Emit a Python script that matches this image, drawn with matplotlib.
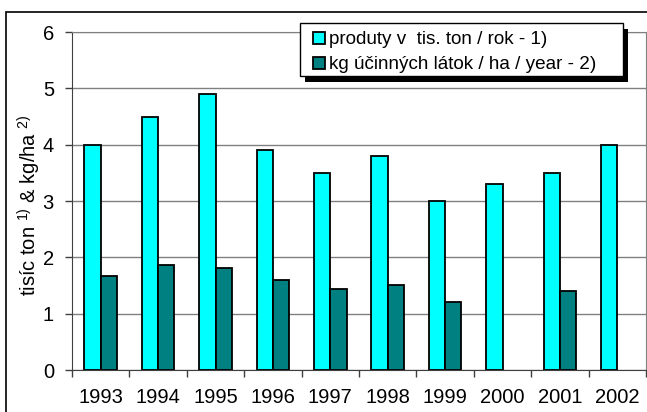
import numpy as np
import matplotlib
matplotlib.use("Agg")
import matplotlib.pyplot as plt
from matplotlib.patches import Rectangle
from matplotlib.lines import Line2D
from matplotlib.transforms import IdentityTransform

plt.rcParams['font.family'] = ['Liberation Sans', 'DejaVu Sans']

# Data
years = ['1993', '1994', '1995', '1996', '1997', '1998', '1999', '2000', '2001', '2002']
products = [4.0, 4.5, 4.9, 3.9, 3.5, 3.8, 3.0, 3.3, 3.5, 4.0]
active_kg = [1.67, 1.86, 1.81, 1.59, 1.43, 1.51, 1.21, np.nan, 1.40, np.nan]
labels = ['produty v  tis. ton / rok - 1)', 'kg účinných látok / ha / year - 2)']
yticks = [0, 1, 2, 3, 4, 5, 6]

W, H = 647, 412
fig = plt.figure(figsize=(W / 100, H / 100), dpi=100)
ax = fig.add_axes([72 / W, 1 - 370 / H, (646 - 72) / W, (370 - 32) / H])

x = np.arange(len(years))
w = 0.2857
ax.bar(x - w / 2, products, w, color='#00FFFF', edgecolor='black', linewidth=1.3, zorder=3)
ax.bar(x + w / 2, active_kg, w, color='#008080', edgecolor='black', linewidth=1.3, zorder=3)

ax.set_xlim(-0.5, len(years) - 0.5)
ax.set_ylim(0, 6)
ax.set_yticks(yticks)
ax.set_xticks(x)
ax.set_xticklabels(years)
ax.set_xticks(np.arange(len(years) + 1) - 0.5, minor=True)
ax.tick_params(axis='x', which='major', length=0, pad=13, labelsize=14.5)
ax.tick_params(axis='x', which='minor', length=5, width=1, color='#404040', direction='out')
ax.tick_params(axis='y', length=5, width=1, color='#404040', pad=8, labelsize=14.5)

ax.grid(axis='y', color='#808080', linewidth=1)
ax.set_axisbelow(True)
for s in ['top', 'right']:
    ax.spines[s].set_color('#808080')
for s in ['left', 'bottom']:
    ax.spines[s].set_color('#404040')

ax.set_ylabel(r'tisíc ton $\mathregular{^{1)}}$ & kg/ha $\mathregular{^{2)}}$', fontsize=14.5)
ax.yaxis.set_label_coords(-0.05, 0.488)

# legend box (frame + shadow drawn by hand, Excel style)
lx0, ly0, lx1, ly1 = 300, 22.7, 622.7, 75.5
pix = IdentityTransform()
ax.add_patch(Rectangle((lx0 + 5, H - ly1 - 6), lx1 - lx0, ly1 - ly0, transform=pix,
                       facecolor='black', edgecolor='none', clip_on=False, zorder=5))
ax.add_patch(Rectangle((lx0, H - ly1), lx1 - lx0, ly1 - ly0, transform=pix,
                       facecolor='white', edgecolor='black', linewidth=1, clip_on=False, zorder=5.2))

handles = [Line2D([], [], marker='s', linestyle='none', markersize=8.6,
                  markerfacecolor=c, markeredgecolor='black', markeredgewidth=1.3)
           for c in ['#00FFFF', '#008080']]
leg = ax.legend(handles, labels, loc='upper left',
                bbox_to_anchor=(310, H - 29), bbox_transform=pix,
                fontsize=13.6, frameon=False, borderaxespad=0,
                handlelength=0.7, handletextpad=0.22, labelspacing=0.42,
                borderpad=0.1)
leg.set_zorder(6)

# outer chart border
fig.patches.append(Rectangle((6 / W, -0.05), 1, 1 - 12 / H + 0.05, transform=fig.transFigure,
                             fill=False, edgecolor='black', linewidth=1.2))

fig.savefig('out.png', dpi=100)
